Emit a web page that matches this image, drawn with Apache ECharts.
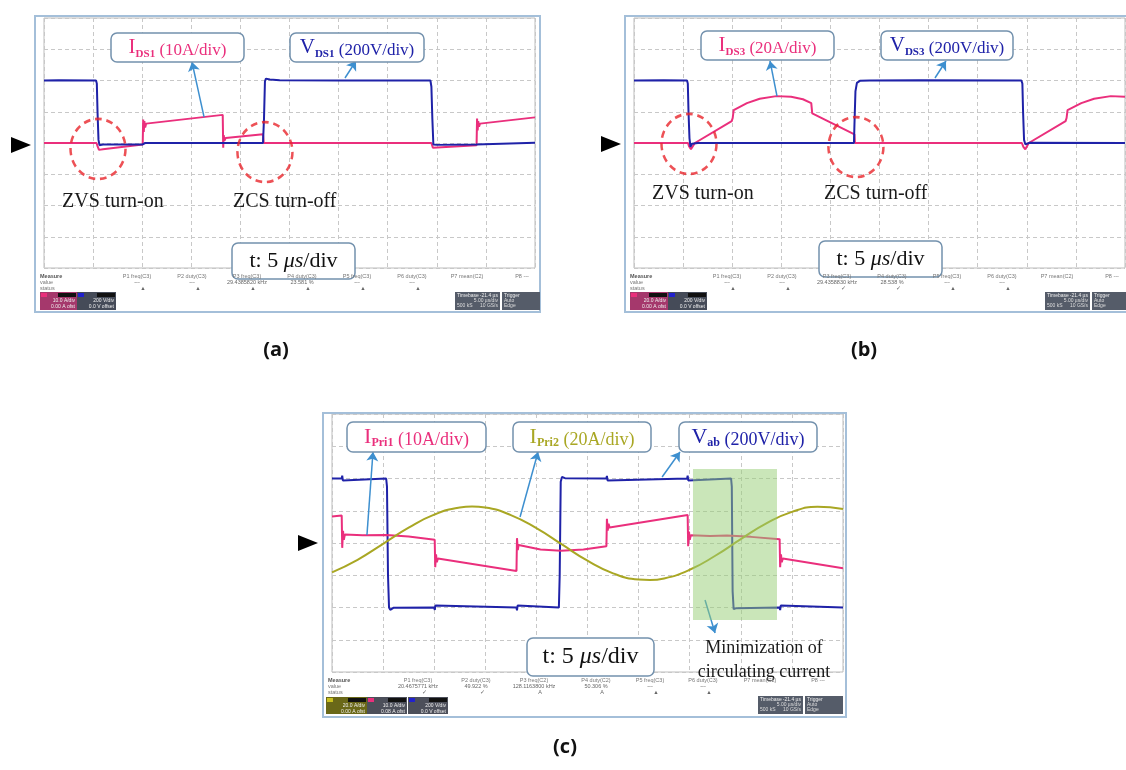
<!DOCTYPE html>
<html><head><meta charset="utf-8">
<script src="https://cdn.jsdelivr.net/npm/echarts@6/dist/echarts.min.js"></script>
<style>html,body{margin:0;padding:0;background:#fff}#c{width:1126px;height:770px}</style>
</head><body><div id="c"></div>
<script>
// ================= DATA (time in µs, values in V or A) =================
// Panel (a)
const vDS1 = [[0,400],[1.5,402],[1.6,394],[1.7,400],[5.3,400],[5.38,380],[5.45,200],[5.55,20],[5.65,-14],[6,-10],[10.0,-10],[10.1,-2],[10.3,0],[22.3,0],[22.4,150],[22.5,395],[22.6,412],[23,406],[24,402],[30,400],[39.35,400],[39.45,360],[39.55,150],[39.65,-10],[40,-12],[44,-10],[44.2,0],[50,2]];
const iDS1 = [[0,0],[5.35,0],[5.45,-1],[5.6,-2.2],[6,-2],[10.05,-0.5],[10.1,7.5],[10.16,3.5],[10.22,7.0],[10.3,5.0],[10.4,6.2],[10.5,5.6],[18.2,9.0],[18.25,-1.5],[18.3,2.5],[18.38,0.8],[18.5,1.6],[22.3,2.8],[22.38,0],[39.45,0],[39.6,-1.5],[39.8,-2.0],[44.05,-0.7],[44.1,7.8],[44.16,4.0],[44.22,7.0],[44.3,5.2],[44.4,6.2],[44.5,5.8],[50,8.2]];
// Panel (b)
const vDS3 = [[0,400],[3,402],[3.1,394],[3.2,400],[5.4,400],[5.48,380],[5.55,200],[5.65,30],[5.75,-25],[5.9,-5],[6.5,0],[22.4,0],[22.45,120],[22.55,330],[22.7,385],[23,398],[24,400],[29,402],[29.1,394],[29.2,400],[39.45,400],[39.55,380],[39.62,200],[39.72,20],[39.85,-8],[40.3,2],[50,0]];
const iDS3 = [[0,0],[5.5,0],[5.6,-2],[5.8,-4],[6.2,0],[9.95,14],[10.05,16],[10.15,21],[10.3,22],[11.5,25.5],[12.8,28.3],[14.5,30],[16,29.6],[17.2,28],[18.05,25.5],[18.15,19],[18.35,18],[22.45,5.5],[22.5,0],[39.5,0],[39.65,-2.5],[39.85,-4],[40.2,0],[43.95,14],[44.05,16],[44.15,21],[44.35,22],[45.55,25.5],[46.85,28.3],[48.55,30],[50,29.6]];
// Panel (c)
const vAB = [[0,400],[0.95,400],[1.0,418],[1.06,388],[1.12,400],[5.3,400],[5.38,350],[5.48,-200],[5.58,-400],[5.7,-415],[6,-402],[10.0,-400],[10.06,-415],[10.12,-388],[10.2,-400],[18.05,-400],[18.1,-418],[18.16,-388],[18.22,-400],[22.2,-400],[22.28,-200],[22.38,380],[22.5,410],[22.8,402],[26.85,400],[26.9,416],[26.96,388],[27.02,400],[34.75,400],[34.8,418],[34.86,388],[34.92,400],[39.05,400],[39.12,350],[39.2,-300],[39.3,-410],[39.5,-405],[43.8,-400],[43.85,-416],[43.91,-388],[43.97,-400],[50,-400]];
const iPri1 = [[0,8.2],[0.95,8.5],[1.0,-1.5],[1.08,3.8],[1.16,1.0],[1.26,2.6],[1.4,2.0],[3.0,2.4],[5.3,2.5],[7.5,2.0],[10.05,1.0],[10.1,-7.5],[10.18,-3.5],[10.26,-6.0],[10.36,-4.8],[10.5,-5.2],[18.05,-8.7],[18.1,1.5],[18.18,-2.2],[18.26,-0.6],[18.4,-1.2],[20.4,-2.0],[22.4,-2.4],[24.6,-2.0],[26.85,-1.0],[26.9,7.5],[26.98,3.8],[27.06,6.0],[27.16,4.8],[27.3,5.2],[34.8,8.7],[34.85,-1.0],[34.93,3.5],[35.01,1.0],[35.11,2.4],[35.25,1.8],[37,2.2],[38.65,2.3],[41,1.9],[43.8,1.2],[43.85,-7.5],[43.93,-3.5],[44.01,-6.0],[44.11,-4.8],[44.25,-5.3],[50,-7.8]];
const iPri2 = [[0,-18.2],[2.5,-10.4],[5,-0.5],[7.5,9.5],[10,17.6],[12.5,22.0],[13.7,22.6],[15,22.0],[17.5,17.3],[20,9.2],[22.5,-0.9],[25,-11.0],[27.5,-18.8],[30,-22.7],[31.1,-23],[32.5,-22.0],[35,-16.6],[37.5,-7.9],[40,2.4],[42.5,12.1],[45,19.3],[47.5,22.5],[50,21.1]];
// annotation anchors (data coords: µs, V-axis units)
const circlesA = [[5.5,-38],[22.5,-58]];
const circlesB = [[5.6,-6],[22.6,-26]];
const arrowsA = [[[16.3,166],[15.07,518]],[[30.65,416],[31.77,525]]];
const arrowsB = [[[14.56,300],[13.85,525]],[[30.65,416],[31.77,525]]];
const arrowsC = [[[3.42,50],[4.01,564]],[[18.4,161],[20.16,564]],[[32.3,409],[34.05,564]],[[36.5,-353],[37.48,-558]]];
const greenZone = [[35.32,459],[43.54,-477]];
// measurement readouts
const measHeads = ['P1 freq(C3)','P2 duty(C3)','P3 freq(C3)','P4 duty(C3)','P5 freq(C3)','P6 duty(C3)','P7 mean(C2)','P8 ---'];
const measHeadsC = ['P1 freq(C3)','P2 duty(C3)','P3 freq(C2)','P4 duty(C2)','P5 freq(C3)','P6 duty(C3)','P7 mean(C2)','P8 ---'];
const measValsA = ['---','---','29.4385820 kHz','23.581 %','---','---','',''];
const measValsB = ['---','---','29.4358830 kHz','28.538 %','---','---','',''];
const measValsC = ['20.4675771 kHz','49.922 %','128.1163800 kHz','50.306 %','---','---','',''];
const measStatA = ['▲','▲','▲','▲','▲','▲','',''];
const measStatB = ['▲','▲','✓','✓','▲','▲','',''];
const measStatC = ['✓','✓','A','A','▲','▲','',''];

// ================= STYLE =================
const BLUE = '#1f22a8', PINK = '#ea2f7c', OLIVE = '#a9a724', ARROW = '#3d8fcf', RED = '#e8262c';
const SERIF = '"Liberation Serif", "DejaVu Serif", serif';
const SANS = '"Liberation Sans", Arial, sans-serif';
const gridLine = {show:true, lineStyle:{color:'#c8c8c8', type:[4,3], width:1}};
function xAx(g){return {gridIndex:g,type:'value',min:0,max:50,interval:5,axisLine:{show:false},axisTick:{show:false},axisLabel:{show:false},splitLine:gridLine};}
function yAx(g,m,show){return {gridIndex:g,type:'value',min:-m,max:m,interval:m/4,axisLine:{show:false},axisTick:{show:false},axisLabel:{show:false},splitLine:show?gridLine:{show:false}};}
function trace(name,x,y,data,color,smooth){return {name,type:'line',xAxisIndex:x,yAxisIndex:y,data,symbol:'none',smooth:!!smooth,color,lineStyle:{color,width:2},silent:true,z:3};}
function arrowsML(list){return {silent:true,symbol:['none','arrow'],symbolSize:9,lineStyle:{color:ARROW,width:1.5,type:'solid'},label:{show:false},data:list.map(p=>[{coord:p[0]},{coord:p[1]}])};}
function circles(x,y,data){return {type:'scatter',xAxisIndex:x,yAxisIndex:y,data,symbol:'circle',symbolSize:[55,60],silent:true,z:6,itemStyle:{color:'rgba(0,0,0,0)',borderColor:RED,borderWidth:2.6,borderType:[7,5]}};}

const series = [
  trace('IDS1',0,1,iDS1,PINK), trace('VDS1',0,0,vDS1,BLUE),
  {type:'line',xAxisIndex:0,yAxisIndex:0,data:[],z:7,markLine:arrowsML(arrowsA)},
  circles(0,0,circlesA),
  trace('IDS3',1,3,iDS3,PINK), trace('VDS3',1,2,vDS3,BLUE),
  {type:'line',xAxisIndex:1,yAxisIndex:2,data:[],z:7,markLine:arrowsML(arrowsB)},
  circles(1,2,circlesB),
  trace('Vab',2,4,vAB,BLUE), trace('Ipri1',2,5,iPri1,PINK), trace('Ipri2',2,6,iPri2,OLIVE,true),
  {type:'line',xAxisIndex:2,yAxisIndex:4,data:[],z:7,markLine:arrowsML(arrowsC)}
];

// ================= GRAPHIC (layout) =================
const G = [];
function rect(x,y,w,h,style,z,r){G.push({type:'rect',shape:{x,y,width:w,height:h,r:r||0},style,z:z||0,silent:true});}
function txt(x,y,text,font,fill,align,extra){G.push(Object.assign({type:'text',x,y,silent:true,z:120,style:Object.assign({text,font,fill,align:align||'left',textAlign:align||'left',verticalAlign:'middle',textVerticalAlign:'middle'},extra||{})}));}
function tri(x,y){G.push({type:'polygon',shape:{points:[[x,y-8],[x,y+8],[x+20,y]]},style:{fill:'#000'},silent:true,z:10});}
// panel frames
rect(35,16,505,296,{fill:'none',stroke:'#a4bfd9',lineWidth:2},1);
rect(625,16,506,296,{fill:'none',stroke:'#a4bfd9',lineWidth:2},1);
rect(323,413,523,304,{fill:'none',stroke:'#a4bfd9',lineWidth:2},1);
tri(11,145); tri(601,144); tri(298,543);
// label boxes
function labelBox(x,y,w,h,rich,text){rect(x,y,w,h,{fill:'#fff',stroke:'#7391ad',lineWidth:1.5},110,6);
  G.push({type:'text',x:x+w/2,y:y+h/2,silent:true,z:121,style:{text,rich,align:'center',textAlign:'center',verticalAlign:'middle',textVerticalAlign:'middle'}});}
function richFor(color,fs){return {I:{fontFamily:SERIF,fontSize:fs+4,fill:color,lineHeight:24,verticalAlign:'middle'},s:{fontFamily:SERIF,fontSize:fs-6,fontWeight:'bold',fill:color,lineHeight:12,verticalAlign:'bottom'},t:{fontFamily:SERIF,fontSize:fs,fill:color,lineHeight:21,verticalAlign:'bottom'}};}
labelBox(111,33,133,29,richFor(PINK,17),'{I|I}{s|DS1}{t| (10A/div)}');
labelBox(290,33,134,29,richFor(BLUE,17),'{I|V}{s|DS1}{t| (200V/div)}');
labelBox(701,31,133,29,richFor(PINK,17),'{I|I}{s|DS3}{t| (20A/div)}');
labelBox(881,31,132,29,richFor(BLUE,17),'{I|V}{s|DS3}{t| (200V/div)}');
labelBox(347,422,139,30,richFor(PINK,18),'{I|I}{s|Pri1}{t| (10A/div)}');
labelBox(513,422,138,30,richFor(OLIVE,18),'{I|I}{s|Pri2}{t| (20A/div)}');
labelBox(679,422,138,30,richFor(BLUE,18),'{I|V}{s|ab}{t| (200V/div)}');
function tBox(x,y,w,h,fs){rect(x,y,w,h,{fill:'#fff',stroke:'#7391ad',lineWidth:1.5},110,6);
  G.push({type:'text',x:x+w/2,y:y+h/2,silent:true,z:121,style:{text:'{a|t: 5 }{i|μs}{a|/div}',rich:{a:{fontFamily:SERIF,fontSize:fs,fill:'#111'},i:{fontFamily:SERIF,fontSize:fs,fontStyle:'italic',fill:'#111'}},align:'center',textAlign:'center',verticalAlign:'middle',textVerticalAlign:'middle'}});}
tBox(232,243,123,36,22); tBox(819,241,123,36,22); tBox(527,638,127,38,24);
// annotations text
const F20 = '20px '+SERIF;
txt(62,202,'ZVS turn-on',F20,'#1a1a1a'); txt(233,202,'ZCS turn-off',F20,'#1a1a1a');
txt(652,194,'ZVS turn-on',F20,'#1a1a1a'); txt(824,194,'ZCS turn-off',F20,'#1a1a1a');
txt(764,648,'Minimization of','18px '+SERIF,'#1a1a1a','center');
txt(764,672,'circulating current','18px '+SERIF,'#1a1a1a','center');
// sub captions
txt(276,350,'(a)','bold 20px "Open Sans", sans-serif','#111','center');
txt(864,350,'(b)','bold 20px "Open Sans", sans-serif','#111','center');
txt(565,747,'(c)','bold 20px "Open Sans", sans-serif','#111','center');
// measurement bars
function meas(x0,y0,cols,heads,vals,stats){
  const f='5.5px '+SANS;
  txt(x0,y0,'Measure','bold 5.5px '+SANS,'#555'); txt(x0,y0+6,'value',f,'#777'); txt(x0,y0+12,'status',f,'#777');
  cols.forEach((cx,i)=>{txt(cx,y0,heads[i],f,'#777','center'); if(vals[i]) txt(cx,y0+6,vals[i],f,'#666','center'); if(stats[i]) txt(cx+6,y0+12,stats[i],f,'#666','center');});
}
const colsA=[137,192,247,302,357,412,467,522];
meas(40,276,colsA,measHeads,measValsA,measStatA);
meas(630,276,colsA.map(c=>c+590),measHeads,measValsB,measStatB);
meas(328,680,[418,476,534,596,650,703,760,818],measHeadsC,measValsC,measStatC);
function chBox(x,y,w,h,sq,body,l1,l2){
  rect(x,y,w,h,{fill:body},20); rect(x+1,y+1,6,4,{fill:sq},21); rect(x+w-19,y+1,18,4,{fill:'#111'},21);
  txt(x+w-2,y+9,l1,'5px '+SANS,'#eee','right'); txt(x+w-2,y+14.5,l2,'5px '+SANS,'#eee','right');
}
chBox(40,292,37,18,PINK,'#a5386c','10.0 A/div','0.00 A ofst'); chBox(77,292,39,18,'#2222cc','#454b58','200 V/div','0.0 V offset');
chBox(630,292,38,18,PINK,'#a5386c','20.0 A/div','0.00 A ofst'); chBox(668,292,39,18,'#2222cc','#454b58','200 V/div','0.0 V offset');
chBox(326,697,41,17,'#c8c020','#6a6818','20.0 A/div','0.00 A ofst'); chBox(367,697,40,17,PINK,'#4c4f5a','10.0 A/div','0.08 A ofst'); chBox(408,697,40,17,'#2222cc','#4c4f5a','200 V/div','0.0 V offset');
function tbBox(x,y){rect(x,y,45,18,{fill:'#555c69'},20); rect(x+47,y,38,18,{fill:'#555c69'},20);
  txt(x+2,y+4,'Timebase','5px '+SANS,'#eee'); txt(x+43,y+4,'-21.4 µs','5px '+SANS,'#eee','right');
  txt(x+43,y+9,'5.00 µs/div','5px '+SANS,'#ddd','right'); txt(x+2,y+14,'500 kS','5px '+SANS,'#ddd'); txt(x+43,y+14,'10 GS/s','5px '+SANS,'#ddd','right');
  txt(x+49,y+4,'Trigger','5px '+SANS,'#eee'); txt(x+49,y+9,'Auto','5px '+SANS,'#ddd'); txt(x+49,y+14,'Edge','5px '+SANS,'#ddd');}
tbBox(455,292); tbBox(1045,292); tbBox(758,696);

const option = {
  backgroundColor:'#fff', animation:false,
  grid:[
    {left:44,top:18,width:491,height:250,show:true,borderColor:'#bdbdbd',borderWidth:1},
    {left:634,top:18,width:491,height:250,show:true,borderColor:'#bdbdbd',borderWidth:1},
    {left:332,top:414,width:511,height:258,show:true,borderColor:'#bdbdbd',borderWidth:1}
  ],
  xAxis:[xAx(0),xAx(1),xAx(2)],
  yAxis:[yAx(0,800,true),yAx(0,40,false),yAx(1,800,true),yAx(1,80,false),yAx(2,800,true),yAx(2,40,false),yAx(2,80,false)],
  series, graphic:{elements:G}
};
const chart = echarts.init(document.getElementById('c'),null,{renderer:'canvas'});
chart.setOption(option);
// translucent highlight zone placed over the traces, positioned through the axes
const gz0 = chart.convertToPixel({xAxisIndex:2,yAxisIndex:4}, greenZone[0]);
const gz1 = chart.convertToPixel({xAxisIndex:2,yAxisIndex:4}, greenZone[1]);
chart.setOption({graphic:{elements:G.concat([{type:'rect',silent:true,z:50,shape:{x:gz0[0],y:gz0[1],width:gz1[0]-gz0[0],height:gz1[1]-gz0[1]},style:{fill:'rgba(150,205,115,0.5)'}}])}});
</script></body></html>
